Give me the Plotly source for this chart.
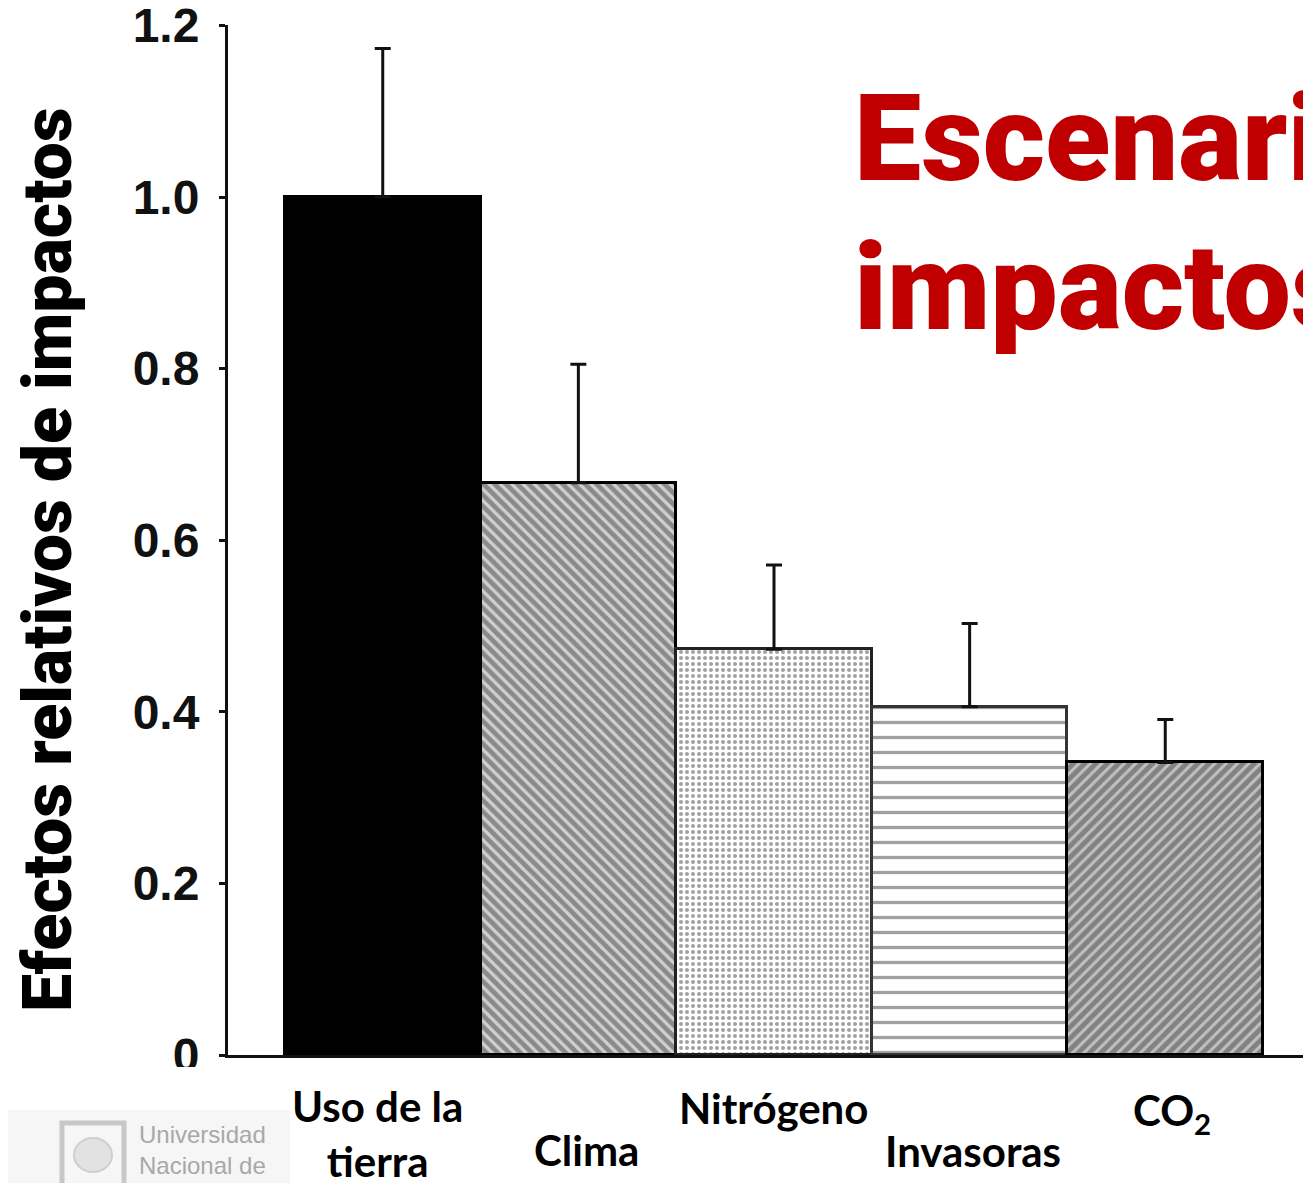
import plotly.graph_objects as go

# ---- data ----
categories = ["Uso de la tierra", "Clima", "Nitrógeno", "Invasoras", "CO2"]
values = [1.0, 0.667, 0.473, 0.406, 0.341]
error_tops = [1.173, 0.805, 0.571, 0.503, 0.391]
tick_vals = [0, 0.2, 0.4, 0.6, 0.8, 1.0, 1.2]
tick_text = ["0", "0.2", "0.4", "0.6", "0.8", "1.0", "1.2"]
x_labels = ["Uso de la<br>tierra", "Clima", "Nitrógeno", "Invasoras", "CO<sub>2</sub>"]
y_title = "Efectos relativos de impactos"
title_lines = ["Escenarios", "impactos"]

# ---- layout geometry (page pixels; the page body adds an 8px offset) ----
OFF = 8
W, H = 1311 - OFF, 1183 - OFF
L, R, T = 228 - OFF, 0, 25 - OFF
Y0_PAGE = 1055
B = H - (Y0_PAGE - OFF)
plot_w = W - L - R
plot_h = H - T - B


def px_to_paper_x(px):
    return (px - OFF - L) / plot_w


def px_to_paper_y(py):
    return (H - B - (py - OFF)) / plot_h


bar_colors = ["#000000", "#d0d0d0", "#ffffff", "#ffffff", "#c0c0c0"]
pat_shapes = ["", "\\", ".", "-", "/"]
pat_fg = ["#000000", "#000000", "#8a8a8a", "#1a1a1a", "#000000"]
pat_size = [8, 8, 6, 15, 8]
pat_solid = [0.3, 0.6, 0.35, 0.22, 0.62]
line_colors = ["#000000", "#000000", "#222222", "#333333", "#000000"]

err_plus = [t - v for t, v in zip(error_tops, values)]

fig = go.Figure()
fig.add_trace(go.Bar(
    x=categories,
    y=values,
    width=1.0,
    marker=dict(
        color=bar_colors,
        line=dict(color=line_colors, width=3),
        pattern=dict(shape=pat_shapes, fgcolor=pat_fg, bgcolor=bar_colors,
                     size=pat_size, solidity=pat_solid),
    ),
    error_y=dict(type="data", symmetric=False, array=err_plus,
                 arrayminus=[0] * len(values), color="#111111",
                 thickness=3, width=8),
    showlegend=False,
))

label_font = dict(family="Lato, 'Open Sans', sans-serif", size=42, color="#000000")
label_pos = [(377, 1133), (586, 1150), (773, 1108), (973, 1151), (1172, 1113)]
annotations = []
for cat, txt, (px, py) in zip(categories, x_labels, label_pos):
    annotations.append(dict(
        x=px_to_paper_x(px), y=px_to_paper_y(py), xref="paper", yref="paper",
        text="<b>" + txt + "</b>", showarrow=False, xanchor="center", yanchor="middle",
        font=label_font,
    ))

title_font = dict(family="Roboto, 'DejaVu Sans', sans-serif",
                  size=120, color="#c00000", weight=900)
annotations.append(dict(x=px_to_paper_x(852), y=px_to_paper_y(139), xref="paper", yref="paper",
                        text=title_lines[0], showarrow=False, xanchor="left", yanchor="middle",
                        font=title_font))
annotations.append(dict(x=px_to_paper_x(852), y=px_to_paper_y(288), xref="paper", yref="paper",
                        text=title_lines[1], showarrow=False, xanchor="left", yanchor="middle",
                        font=title_font))

# y title
annotations.append(dict(x=px_to_paper_x(48), y=px_to_paper_y(560), xref="paper", yref="paper",
                        text=y_title, showarrow=False, textangle=-90,
                        xanchor="center", yanchor="middle",
                        font=dict(family="Roboto, 'DejaVu Sans', sans-serif",
                                  size=68, color="#000000", weight=900)))

# logo text
annotations.append(dict(x=px_to_paper_x(137), y=px_to_paper_y(1119), xref="paper", yref="paper",
                        text="Universidad<br>Nacional de<br>Córdoba", showarrow=False,
                        xanchor="left", yanchor="top", align="left",
                        font=dict(family="'Liberation Sans', Arial, sans-serif", size=24,
                                  color="#a8a8a8")))

shapes = [
    # mask clipping the bottom of the "0" label like the cropped original
    dict(type="rect", xref="paper", yref="paper", layer="above",
         x0=px_to_paper_x(90), x1=px_to_paper_x(224), y0=px_to_paper_y(1100),
         y1=px_to_paper_y(1067), fillcolor="#ffffff", line=dict(width=0)),
    # logo background
    dict(type="rect", xref="paper", yref="paper", layer="below",
         x0=px_to_paper_x(0), x1=px_to_paper_x(290), y0=px_to_paper_y(1190),
         y1=px_to_paper_y(1110), fillcolor="#f6f6f6", line=dict(width=0)),
    # logo icon
    dict(type="rect", xref="paper", yref="paper", layer="below",
         x0=px_to_paper_x(62), x1=px_to_paper_x(124), y0=px_to_paper_y(1192),
         y1=px_to_paper_y(1123), fillcolor="rgba(0,0,0,0)",
         line=dict(color="#c8c8c8", width=5)),
    dict(type="circle", xref="paper", yref="paper", layer="below",
         x0=px_to_paper_x(74), x1=px_to_paper_x(112), y0=px_to_paper_y(1172),
         y1=px_to_paper_y(1138), fillcolor="#e2e2e2", line=dict(color="#cfcfcf", width=2)),
]

fig.update_layout(
    width=W, height=H,
    margin=dict(l=L, r=R, t=T, b=B, pad=0, autoexpand=False),
    paper_bgcolor="#ffffff", plot_bgcolor="#ffffff",
    bargap=0,
    xaxis=dict(range=[-0.791, 4.745], showline=True, linewidth=3, linecolor="#111111",
               showticklabels=False, ticks="", showgrid=False, zeroline=False,
               automargin=False),
    yaxis=dict(range=[0, 1.2005], tickvals=tick_vals, ticktext=tick_text,
               showline=True, linewidth=3, linecolor="#111111", ticks="outside",
               ticklen=6, tickwidth=3, tickcolor="#111111", showgrid=False,
               zeroline=False, ticklabelstandoff=10, ticklabeloverflow="allow",
               automargin=False,
               tickfont=dict(family="'Liberation Sans', Arial, sans-serif", size=48,
                             color="#111111", weight="bold")),
    annotations=annotations,
    shapes=shapes,
)

fig.write_html("out.html")
